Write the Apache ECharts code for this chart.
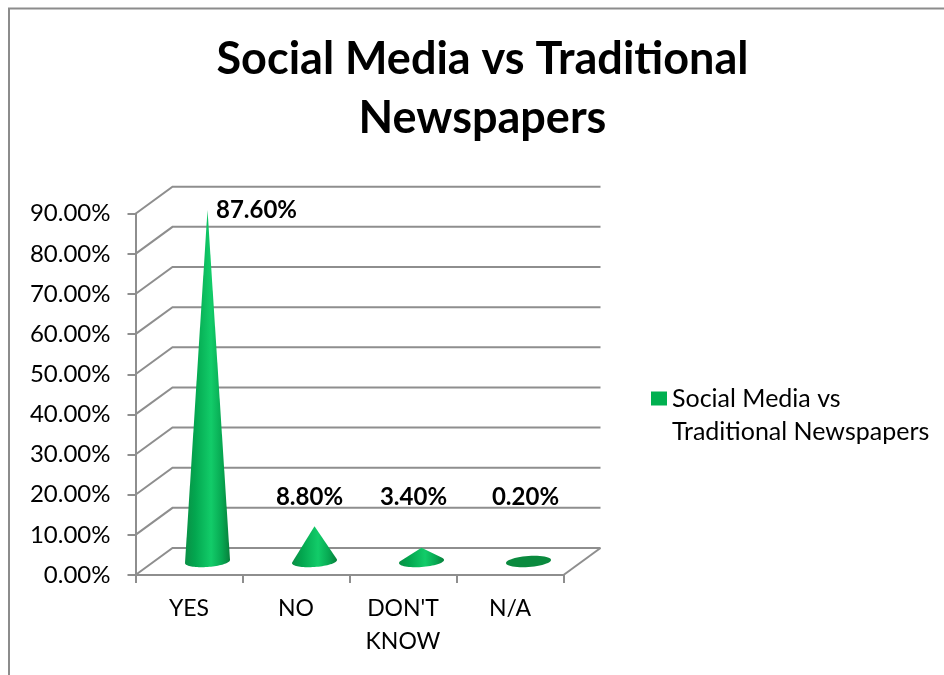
<!DOCTYPE html>
<html>
<head>
<meta charset="utf-8">
<style>html,body{margin:0;padding:0;background:#fff}#chart{width:944px;height:675px}</style>
<script src="https://cdn.jsdelivr.net/npm/echarts@6/dist/echarts.min.js"></script>
</head>
<body>
<div id="chart"></div>
<script>
// Survey answers shown as cones standing on a pseudo-3D floor.
const titleLines = ['Social Media vs Traditional', 'Newspapers'];
const seriesName = 'Social Media vs Traditional Newspapers';
const categories = ['YES', 'NO', "DON'T KNOW", 'N/A'];
const percentages = [87.6, 8.8, 3.4, 0.2];
const tickValues = [0, 10, 20, 30, 40, 50, 60, 70, 80, 90];

// Depth of the floor and walls, in pixels.
const DEPTH_X = 37;
const DEPTH_Y = -27;
const FONT = 'Lato, "Open Sans", sans-serif';
const GRID_COLOR = '#8e8e8e';
const pct = v => v.toFixed(2) + '%';

// Hand-placed value labels: offset from the cone axis, and lowest height above the floor.
const labelDx = [49, -5, -8, -3];
const labelFloor = [0, 16, 16, 16];

function renderWall(params, api) {
  const band = api.size([1, 0])[0];
  const start = api.coord([0, api.value(1)]);
  const left = start[0] - band / 2;
  const right = left + band * categories.length;
  const y = start[1];
  return {
    type: 'polyline',
    silent: true,
    shape: { points: [[left, y], [left + DEPTH_X, y + DEPTH_Y], [right + DEPTH_X, y + DEPTH_Y]] },
    style: { fill: null, stroke: GRID_COLOR, lineWidth: 2 }
  };
}

function renderFloorEdge(params, api) {
  const band = api.size([1, 0])[0];
  const start = api.coord([categories.length - 1, 0]);
  const x = start[0] + band / 2;
  return {
    type: 'line',
    silent: true,
    shape: { x1: x, y1: start[1], x2: x + DEPTH_X, y2: start[1] + DEPTH_Y },
    style: { stroke: GRID_COLOR, lineWidth: 2 }
  };
}

function renderCone(params, api) {
  const index = api.value(0);
  const value = api.value(1);
  const base = api.coord([index, 0]);
  const top = api.coord([index, value]);
  const cx = base[0] + DEPTH_X / 2;
  const cy = base[1] + DEPTH_Y / 2;
  const apexY = top[1] + DEPTH_Y / 2;
  const a = 22.5, b = 5.5, tilt = -0.07;
  const h = cy - apexY;
  const ring = (t) => {
    const x = a * Math.cos(t);
    return [cx + x, cy + b * Math.sin(t) + x * tilt];
  };
  const children = [];
  if (h > b) {
    // Visible part of the base runs between the two tangent points from the apex.
    const t0 = Math.asin(b / h);
    const pts = [[cx, apexY]];
    for (let i = 0; i <= 40; i++) {
      pts.push(ring(-t0 + (Math.PI + 2 * t0) * i / 40));
    }
    children.push({
      type: 'polygon',
      shape: { points: pts },
      style: {
        fill: new echarts.graphic.LinearGradient(0, 0, 1, 0, [
          { offset: 0, color: '#0a8f45' },
          { offset: 0.22, color: '#03a64f' },
          { offset: 0.58, color: '#12cc69' },
          { offset: 0.82, color: '#07a852' },
          { offset: 1, color: '#087f3b' }
        ])
      }
    });
  } else {
    const pts = [];
    for (let i = 0; i < 48; i++) {
      pts.push(ring(i / 48 * Math.PI * 2));
    }
    children.push({ type: 'polygon', shape: { points: pts }, style: { fill: '#0a8a3e' } });
  }
  const labelValue = Math.max(value, labelFloor[index]);
  const labelPoint = api.coord([index, labelValue]);
  children.push({
    type: 'text',
    style: {
      text: pct(value),
      x: cx + labelDx[index],
      y: labelPoint[1] + DEPTH_Y / 2,
      align: 'center',
      verticalAlign: 'middle',
      font: 'bold 24px ' + FONT,
      fill: '#000'
    }
  });
  return { type: 'group', children };
}

const chart = echarts.init(document.getElementById('chart'), null, { renderer: 'canvas' });
chart.setOption({
  animation: false,
  backgroundColor: '#fff',
  title: {
    text: titleLines.join('\n'),
    left: 477.5,
    top: 25,
    textAlign: 'center',
    textStyle: { fontFamily: FONT, fontSize: 45, fontWeight: 'bold', color: '#000', lineHeight: 59 }
  },
  legend: {
    left: 646,
    top: 344,
    orient: 'vertical',
    icon: 'rect',
    itemWidth: 16,
    itemHeight: 14,
    itemGap: 0,
    selectedMode: false,
    data: [seriesName],
    formatter: () => '\nSocial Media vs\nTraditional Newspapers',
    textStyle: { fontFamily: FONT, fontSize: 25, color: '#000', lineHeight: 33 }
  },
  grid: { left: 135.5, top: 213.7, width: 428, height: 361.3 },
  xAxis: {
    type: 'category',
    data: categories,
    boundaryGap: true,
    axisLine: { lineStyle: { color: GRID_COLOR, width: 2 } },
    axisTick: { show: true, alignWithLabel: false, length: 8, lineStyle: { color: GRID_COLOR, width: 2 } },
    axisLabel: {
      fontFamily: FONT, fontSize: 23, color: '#000', margin: 17, lineHeight: 33,
      interval: 0, formatter: v => v.replace(' ', '\n')
    },
    splitLine: { show: false }
  },
  yAxis: {
    type: 'value',
    min: 0,
    max: 90,
    interval: 10,
    axisLine: { show: true, lineStyle: { color: GRID_COLOR, width: 2 } },
    axisTick: { show: true, length: 8, lineStyle: { color: GRID_COLOR, width: 2 } },
    axisLabel: { fontFamily: FONT, fontSize: 24, color: '#000', margin: 25, padding: [4, 0, 0, 0], formatter: pct },
    splitLine: { show: false }
  },
  graphic: [{
    type: 'polyline',
    silent: true,
    z: 0,
    shape: { points: [[9, 675], [9, 8.5], [944, 8.5]] },
    style: { fill: null, stroke: '#8c8c8c', lineWidth: 2 }
  }],
  series: [
    {
      type: 'custom',
      name: 'walls',
      coordinateSystem: 'cartesian2d',
      clip: false,
      z: 1,
      silent: true,
      renderItem: renderWall,
      data: tickValues.map(t => [0, t])
    },
    {
      type: 'custom',
      name: 'floor edge',
      coordinateSystem: 'cartesian2d',
      clip: false,
      z: 1,
      silent: true,
      renderItem: renderFloorEdge,
      data: [[0, 0]]
    },
    {
      type: 'custom',
      name: seriesName,
      coordinateSystem: 'cartesian2d',
      clip: false,
      z: 3,
      itemStyle: { color: '#00B050' },
      renderItem: renderCone,
      data: percentages.map((v, i) => [i, v])
    }
  ]
});
</script>
</body>
</html>
